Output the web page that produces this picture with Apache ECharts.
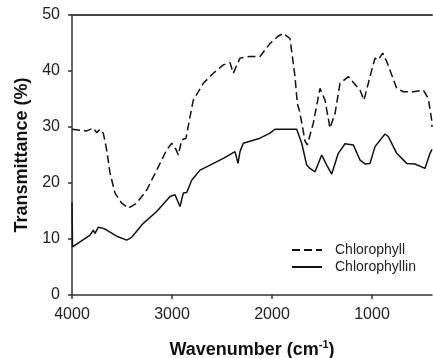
<!DOCTYPE html>
<html>
<head>
<meta charset="utf-8">
<script src="https://cdn.jsdelivr.net/npm/echarts@6/dist/echarts.min.js"></script>
<style>
    html, body {margin: 0; padding: 0; background: #fff;}
    #chart {width: 433px; height: 358px;}
</style>
</head>
<body>
<div id="chart"></div>
<script>
    // Chlorophyll (dashed)
    const wnChlorophyll = [4000, 3920, 3853, 3787, 3753, 3720, 3687, 3653, 3620, 3570, 3503, 3437, 3353, 3253, 3153, 3053, 3003, 2960, 2937, 2903, 2860, 2820, 2787, 2687, 2587, 2487, 2420, 2387, 2320, 2220, 2120, 2020, 1940, 1887, 1820, 1770, 1747, 1727, 1700, 1670, 1647, 1587, 1520, 1470, 1420, 1370, 1320, 1237, 1120, 1080, 1020, 970, 937, 893, 853, 753, 687, 587, 487, 437, 403, 400];
    const tChlorophyll = [29.6, 29.4, 29.3, 29.8, 29.0, 29.6, 28.9, 25.9, 21.8, 18.2, 16.4, 15.5, 16.4, 18.75, 22.3, 25.9, 27.1, 26.0, 25.0, 27.7, 28.0, 31.8, 34.8, 37.8, 39.6, 41.1, 41.5, 39.6, 42.3, 42.6, 42.6, 44.9, 46.2, 46.7, 45.8, 39.0, 34.2, 33.0, 30.5, 27.5, 26.8, 30.7, 36.9, 34.8, 29.8, 32.4, 37.8, 39.0, 36.6, 34.8, 39.0, 42.3, 42.0, 43.2, 41.7, 36.9, 36.3, 36.3, 36.6, 35.1, 31.2, 30.0];

    // Chlorophyllin (solid)
    const wnChlorophyllin = [4000, 3995, 3920, 3820, 3787, 3770, 3737, 3687, 3653, 3553, 3453, 3403, 3287, 3153, 3020, 2970, 2920, 2887, 2853, 2803, 2720, 2620, 2487, 2370, 2340, 2320, 2287, 2120, 2020, 1970, 1753, 1703, 1653, 1620, 1570, 1503, 1453, 1403, 1337, 1270, 1187, 1120, 1070, 1020, 970, 870, 837, 753, 653, 570, 470, 420, 400];
    const tChlorophyllin = [16.5, 8.6, 9.5, 10.7, 11.6, 11.0, 12.1, 11.9, 11.6, 10.5, 9.8, 10.3, 12.8, 14.9, 17.6, 17.9, 15.8, 18.2, 18.3, 20.5, 22.3, 23.2, 24.4, 25.6, 23.5, 25.6, 27.1, 28.0, 28.9, 29.6, 29.6, 27.1, 23.2, 22.6, 22.0, 25.0, 23.2, 21.6, 25.3, 27.0, 26.8, 24.1, 23.4, 23.5, 26.5, 28.75, 28.3, 25.3, 23.5, 23.4, 22.6, 25.3, 26.0];

    const xTicks = [4000, 3000, 2000, 1000];

    const pairs = (xs, ys) => xs.map((x, i) => [x, ys[i]]);

    const myChart = echarts.init(document.getElementById('chart'));
    const axisColor = '#333';
    const font = 'Liberation Sans, Arial, sans-serif';

    const option = {
        animation: false,
        grid: {left: 72, right: 1, top: 15, bottom: 63, outerBoundsMode: 'none'},
        xAxis: [
            {
                type: 'value',
                min: 400,
                max: 4000,
                inverse: true,
                splitLine: {show: false},
                axisLine: {lineStyle: {color: axisColor, width: 1.5}},
                axisTick: {show: true, inside: false, length: 4, customValues: xTicks, lineStyle: {color: axisColor, width: 1.5}},
                axisLabel: {
                    customValues: xTicks,
                    formatter: v => String(v),
                    margin: 12, fontSize: 16, color: '#222', fontFamily: font
                },
                name: '{a|Wavenumber (cm}{s|-1}{a|)}',
                nameLocation: 'middle',
                nameGap: 44,
                nameTextStyle: {
                    rich: {
                        a: {fontSize: 18, fontWeight: 'bold', color: '#111', fontFamily: font, lineHeight: 22},
                        s: {fontSize: 11, fontWeight: 'bold', color: '#111', fontFamily: font, verticalAlign: 'top', lineHeight: 22, padding: [0, 0, 10, 0]}
                    }
                }
            },
            {
                type: 'value',
                position: 'top',
                min: 400,
                max: 4000,
                inverse: true,
                splitLine: {show: false},
                axisLine: {show: true, lineStyle: {color: '#444', width: 2}},
                axisTick: {show: false},
                axisLabel: {show: false}
            }
        ],
        yAxis: {
            type: 'value',
            min: 0,
            max: 50,
            interval: 10,
            splitLine: {show: false},
            axisLine: {show: true, lineStyle: {color: axisColor, width: 1.5}},
            axisTick: {show: true, inside: false, length: 4, lineStyle: {color: axisColor, width: 1.5}},
            axisLabel: {margin: 12, fontSize: 16, color: '#222', fontFamily: font},
            name: 'Transmittance (%)',
            nameLocation: 'middle',
            nameGap: 38,
            nameTextStyle: {fontSize: 18, fontWeight: 'bold', color: '#111', fontFamily: font}
        },
        legend: {
            orient: 'vertical',
            left: 291,
            top: 243,
            padding: 0,
            itemWidth: 30,
            itemHeight: 14,
            itemGap: 3,
            itemStyle: {opacity: 0},
            textStyle: {fontSize: 14, color: '#222', fontFamily: font, padding: [0, 0, 0, 8]},
            data: ['Chlorophyll', 'Chlorophyllin']
        },
        series: [
            {
                name: 'Chlorophyll',
                type: 'line',
                showSymbol: false,
                symbol: 'none',
                data: pairs(wnChlorophyll, tChlorophyll),
                lineStyle: {color: '#111', width: 1.5, type: [8, 4]},
                itemStyle: {color: '#111'}
            },
            {
                name: 'Chlorophyllin',
                type: 'line',
                showSymbol: false,
                symbol: 'none',
                data: pairs(wnChlorophyllin, tChlorophyllin),
                lineStyle: {color: '#111', width: 1.5},
                itemStyle: {color: '#111'}
            }
        ]
    };

    option && myChart.setOption(option);
</script>
</body>
</html>
